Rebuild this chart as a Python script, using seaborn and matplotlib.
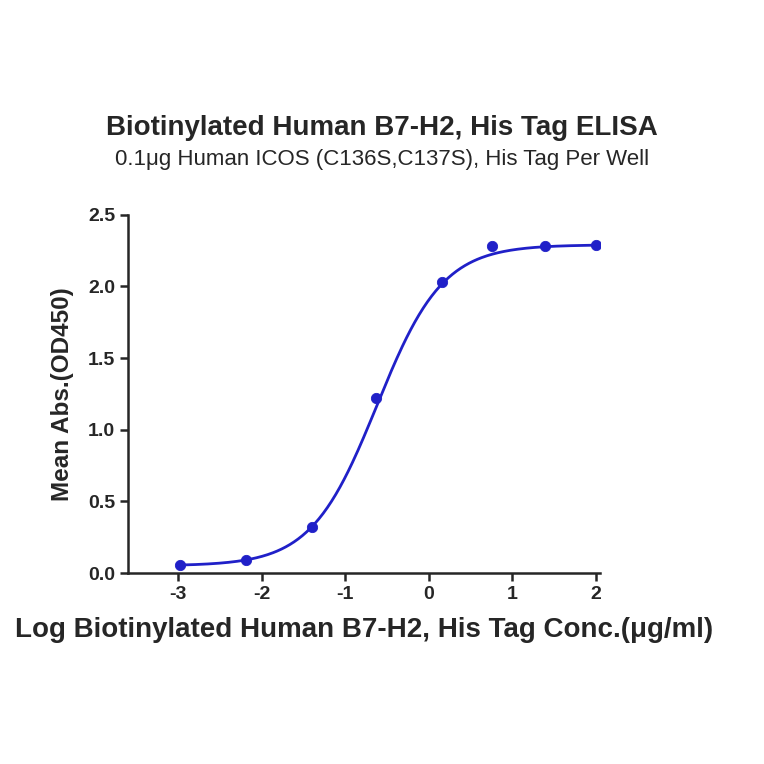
import numpy as np
import pandas as pd
import matplotlib
matplotlib.use('Agg')
import matplotlib.pyplot as plt
import seaborn as sns

# Measured points (log conc, OD450)
log_conc = [-2.98, -2.19, -1.40, -0.63, 0.16, 0.76, 1.39, 2.0]
mean_abs = [0.056, 0.09, 0.32, 1.22, 2.03, 2.28, 2.28, 2.29]
x_ticks = [-3, -2, -1, 0, 1, 2]
x_tick_labels = ['-3', '-2', '-1', '0', '1', '2']

# 4PL fit parameters
fit_bottom = 0.05
fit_top = 2.29
fit_logec50 = -0.62
fit_hill = 1.1

blue = '#2020c8'

sns.set_style('ticks')
plt.rcParams['font.family'] = ['Liberation Sans', 'DejaVu Sans']

fig = plt.figure(figsize=(7.64, 7.64), dpi=100)
ax = fig.add_axes([0.168, 0.25, 0.617, 0.469])

xs = np.linspace(min(log_conc), max(log_conc), 300)
ys = fit_bottom + (fit_top - fit_bottom) / (1 + 10 ** ((fit_logec50 - xs) * fit_hill))
curve = pd.DataFrame({'x': xs, 'y': ys})
pts = pd.DataFrame({'x': log_conc, 'y': mean_abs})

sns.lineplot(data=curve, x='x', y='y', color=blue, linewidth=2, ax=ax)
sns.scatterplot(data=pts, x='x', y='y', color=blue, s=55, edgecolor=blue, ax=ax, zorder=3)

ax.set_xlim(-3.6, 2.05)
ax.set_ylim(0, 2.5)
ax.set_xticks(x_ticks)
ax.set_xticklabels(x_tick_labels)
ax.set_yticks([0, 0.5, 1.0, 1.5, 2.0, 2.5])
ax.set_yticklabels(['0.0', '0.5', '1.0', '1.5', '2.0', '2.5'])
for sp in ['top', 'right']:
    ax.spines[sp].set_visible(False)
for sp in ['left', 'bottom']:
    ax.spines[sp].set_linewidth(1.8)
ax.tick_params(width=1.8, length=6, labelsize=14)
for lab in ax.get_xticklabels() + ax.get_yticklabels():
    lab.set_fontweight('bold')

ax.set_xlabel('Log Biotinylated Human B7-H2, His Tag Conc.(μg/ml)', fontsize=20, fontweight='bold', labelpad=10)
ax.set_ylabel('Mean Abs.(OD450)', fontsize=17.5, fontweight='bold', labelpad=10)

fig.text(0.5, 0.823, 'Biotinylated Human B7-H2, His Tag ELISA', ha='center', fontsize=20, fontweight='bold')
fig.text(0.5, 0.784, '0.1μg Human ICOS (C136S,C137S), His Tag Per Well', ha='center', fontsize=16)

fig.savefig('out.png', dpi=100)
